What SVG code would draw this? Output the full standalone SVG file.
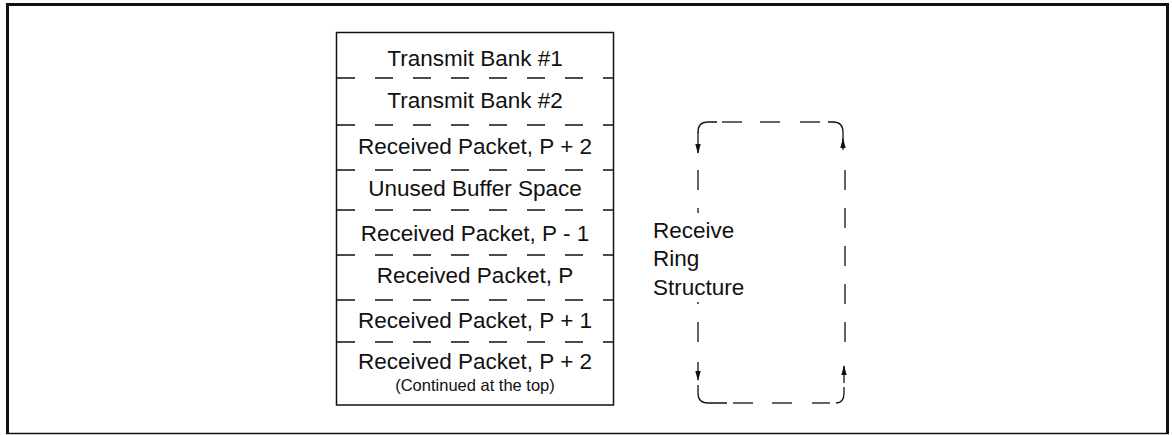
<svg xmlns="http://www.w3.org/2000/svg" width="1172" height="435" viewBox="0 0 1172 435">
<style>
.t{font-family:"Liberation Sans",Arial,sans-serif;font-size:22.5px;fill:#111;text-anchor:middle}
.s{font-family:"Liberation Sans",Arial,sans-serif;font-size:16.5px;fill:#111;text-anchor:middle}
.l{font-family:"Liberation Sans",Arial,sans-serif;font-size:22.5px;fill:#111}
.div{stroke:#111;stroke-width:1.3;stroke-dasharray:18 20;fill:none}
.seg{stroke:#111;stroke-width:1.3;fill:none}
.frame{stroke:#111;fill:none}
</style>
<defs>
<marker id="ah" viewBox="0 0 10 10" refX="9" refY="5" markerWidth="10" markerHeight="10" markerUnits="userSpaceOnUse" orient="auto">
<path d="M0,2.3 L10,5 L0,7.7 Z" fill="#111"/>
</marker>
</defs>
<rect width="1172" height="435" fill="#fff"/>
<g id="frame">
<line class="frame" x1="6" y1="4.5" x2="1169" y2="4.5" stroke-width="3"/>
<line class="frame" x1="7.5" y1="3" x2="7.5" y2="434" stroke-width="3"/>
<line class="frame" x1="1167.5" y1="3" x2="1167.5" y2="434" stroke-width="3"/>
<line class="frame" x1="6" y1="433.5" x2="1169" y2="433.5" stroke-width="1.5"/>
</g>
<g id="buffer">
<rect x="336.5" y="32.5" width="277" height="372.5" fill="none" stroke="#111" stroke-width="1.5"/>
<line class="div" x1="337" y1="78" x2="613" y2="78"/>
<line class="div" x1="337" y1="125" x2="613" y2="125" stroke-width="2.5"/>
<line class="div" x1="337" y1="170" x2="613" y2="170"/>
<line class="div" x1="337" y1="210" x2="613" y2="210"/>
<line class="div" x1="337" y1="255" x2="613" y2="255"/>
<line class="div" x1="337" y1="300" x2="613" y2="300"/>
<line class="div" x1="337" y1="342" x2="613" y2="342"/>
</g>
<g id="row1"><text class="t" x="475" y="66">Transmit Bank #1</text></g>
<g id="row2"><text class="t" x="475" y="108">Transmit Bank #2</text></g>
<g id="row3"><text class="t" x="475" y="154">Received Packet, P + 2</text></g>
<g id="row4"><text class="t" x="475" y="196">Unused Buffer Space</text></g>
<g id="row5"><text class="t" x="475" y="241">Received Packet, P - 1</text></g>
<g id="row6"><text class="t" x="475" y="283">Received Packet, P</text></g>
<g id="row7"><text class="t" x="475" y="328">Received Packet, P + 1</text></g>
<g id="row8"><text class="t" x="475" y="369">Received Packet, P + 2</text><text class="s" x="475" y="391">(Continued at the top)</text></g>
<g id="label"><text class="l" x="653" y="238">Receive</text><text class="l" x="653" y="266">Ring</text><text class="l" x="653" y="295">Structure</text></g>
<g id="connectors">
<path class="seg" d="M698,133 L698,132 Q698,122 708,122 L717,122"/>
<line class="seg" x1="698" y1="132" x2="698" y2="153" marker-end="url(#ah)"/>
<line class="seg" x1="722" y1="122" x2="742" y2="122"/>
<line class="seg" x1="760" y1="122" x2="780" y2="122"/>
<line class="seg" x1="800" y1="122" x2="820" y2="122"/>
<path class="seg" d="M828,122 L833,122 Q843,122 843,132 L843,141"/>
<line class="seg" x1="843" y1="150" x2="843" y2="139" marker-end="url(#ah)"/>
<line class="seg" x1="698" y1="170" x2="698" y2="190"/>
<line class="seg" x1="698" y1="208" x2="698" y2="213"/>
<line class="seg" x1="698" y1="302" x2="698" y2="304"/>
<line class="seg" x1="698" y1="322" x2="698" y2="342"/>
<line class="seg" x1="845" y1="170" x2="845" y2="342" stroke-dasharray="20 18"/>
<line class="seg" x1="698" y1="362" x2="698" y2="380" marker-end="url(#ah)"/>
<path class="seg" d="M698,385 L698,393 Q698,403 708,403 L727,403"/>
<line class="seg" x1="733" y1="403" x2="753" y2="403"/>
<line class="seg" x1="772" y1="403" x2="792" y2="403"/>
<line class="seg" x1="812" y1="403" x2="830" y2="403"/>
<path class="seg" d="M836,403 Q844,403 844,393 L844,387"/>
<line class="seg" x1="844" y1="383" x2="844" y2="366" marker-end="url(#ah)"/>
</g>
</svg>
